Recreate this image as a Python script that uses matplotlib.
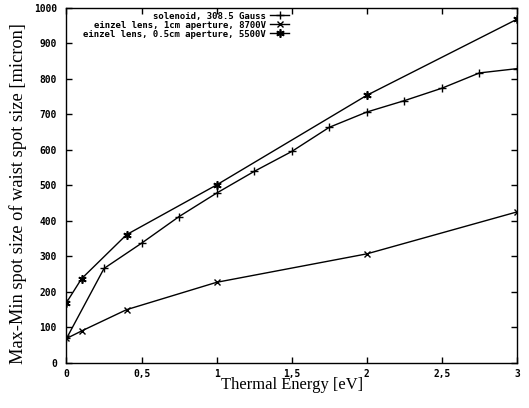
import numpy as np
import matplotlib
matplotlib.use("Agg")
import matplotlib.pyplot as plt

# solenoid, 308.5 Gauss
sol_x = [0, 0.25, 0.5, 0.75, 1, 1.25, 1.5, 1.75, 2, 2.25, 2.5, 2.75, 3]
sol_y = [69, 266, 337, 412, 478, 539, 595, 663, 706, 738, 773, 816, 828]

# einzel lens, 1cm aperture
e1_x = [0, 0.1, 0.4, 1, 2, 3]
e1_y = [69, 90, 150, 227, 307, 425]

# einzel lens, 0.5cm aperture
e05_x = [0, 0.1, 0.4, 1, 2, 3]
e05_y = [170, 237, 361, 501, 753, 967]

labels = ["solenoid, 308.5 Gauss",
          "einzel lens, 1cm aperture, 8700V",
          "einzel lens, 0.5cm aperture, 5500V"]

xticks = [0, 0.5, 1, 1.5, 2, 2.5, 3]
xticklabels = ["0", "0,5", "1", "1,5", "2", "2,5", "3"]
yticks = list(range(0, 1001, 100))

fig = plt.figure(figsize=(5.29, 4.08), dpi=100)
ax = fig.add_axes([0.1257, 0.1103, 0.8516, 0.8713])

ax.plot(sol_x, sol_y, color="black", lw=1, marker="+", ms=6, mew=1, label=labels[0])
ax.plot(e1_x, e1_y, color="black", lw=1, marker="x", ms=4.5, mew=1, label=labels[1])
ax.plot(e05_x, e05_y, color="black", lw=1, marker=(6, 2, 0), ms=6, mew=1.2, label=labels[2])

ax.set_xlim(0, 3)
ax.set_ylim(0, 1000)
ax.set_xticks(xticks)
ax.set_xticklabels(xticklabels)
ax.set_yticks(yticks)
ax.tick_params(direction="in", top=True, right=True, length=4, width=1)
ax.tick_params(axis="x", pad=4)
ax.tick_params(axis="y", pad=7)
for lab in ax.get_xticklabels() + ax.get_yticklabels():
    lab.set_family("DejaVu Sans Mono")
    lab.set_fontweight("bold")
    lab.set_fontsize(6.9)

ax.set_xlabel("Thermal Energy [eV]", family="Liberation Serif", fontsize=11.9, labelpad=-1)
ax.set_ylabel("Max-Min spot size of waist spot size [micron]", family="Liberation Serif",
              fontsize=13.2)
ax.yaxis.set_label_coords(-0.087, 0.478)

leg = ax.legend(loc="upper right", bbox_to_anchor=(0.5006, 0.996), frameon=False,
                markerfirst=False, handlelength=2.1, handletextpad=0.5,
                labelspacing=0.0, borderaxespad=0.0, borderpad=0.3,
                prop={"family": "DejaVu Sans Mono", "weight": "bold", "size": 6.5})
for t in leg.get_texts():
    t.set_ha("right")

for s in ax.spines.values():
    s.set_linewidth(1)

fig.savefig("out.png", dpi=100)
